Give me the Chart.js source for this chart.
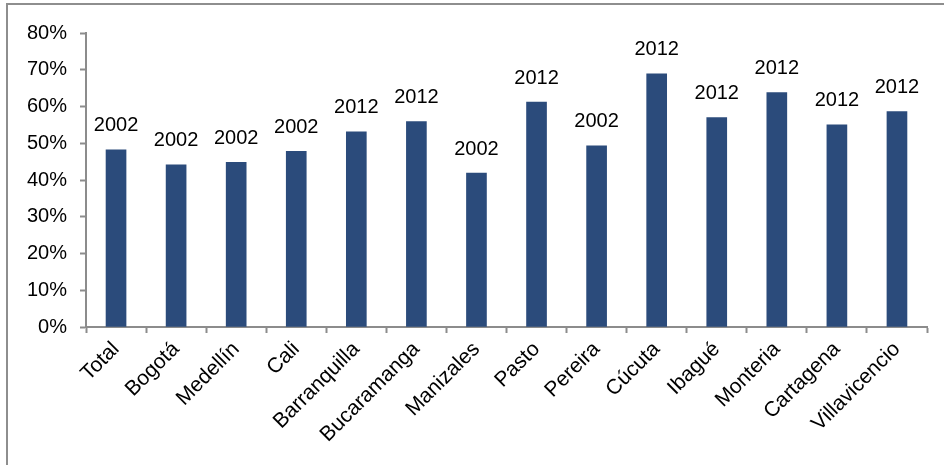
<!DOCTYPE html>
<html lang="es">
<head>
  <meta charset="UTF-8">
  <title>Ciudades 2002-2012</title>
  <script src="https://cdn.jsdelivr.net/npm/chart.js"></script>
  <style>
    body {
      margin: 0;
      padding: 0;
      background-color: #fff;
      overflow: hidden;
    }
    #frame {
      position: absolute;
      left: 6px;
      top: 3px;
      width: 1000px;
      height: 1000px;
      border-top: 2px solid #8e8e8e;
      border-left: 2px solid #8e8e8e;
    }
    #chart-container {
      position: absolute;
      left: 0;
      top: 0;
      width: 944px;
      height: 465px;
    }
  </style>
</head>
<body>
  <div id="frame"></div>
  <div id="chart-container">
    <canvas id="barChart" width="944" height="465"></canvas>
  </div>

  <script>
    const ciudades = ['Total', 'Bogotá', 'Medellín', 'Cali', 'Barranquilla', 'Bucaramanga', 'Manizales',
                      'Pasto', 'Pereira', 'Cúcuta', 'Ibagué', 'Monteria', 'Cartagena', 'Villavicencio'];
    const valores = [48.2, 44.1, 44.8, 47.8, 53.1, 55.9, 41.9, 61.2, 49.3, 68.9, 57.0, 63.8, 55.0, 58.6];
    const anios = ['2002', '2002', '2002', '2002', '2012', '2012', '2002',
                   '2012', '2002', '2012', '2012', '2012', '2012', '2012'];
    const yTicks = [0, 10, 20, 30, 40, 50, 60, 70, 80];

    const FONT = '"Liberation Sans", Arial, sans-serif';
    const gris = '#8c8c8c';

    // etiqueta del año encima de cada barra
    const yearLabels = {
      id: 'yearLabels',
      afterDatasetsDraw(chart) {
        const ctx = chart.ctx;
        const meta = chart.getDatasetMeta(0);
        ctx.save();
        ctx.font = '20px ' + FONT;
        ctx.fillStyle = '#000';
        ctx.textAlign = 'center';
        ctx.textBaseline = 'bottom';
        meta.data.forEach((bar, i) => {
          ctx.fillText(anios[i], bar.x, bar.y - 14);
        });
        ctx.restore();
      }
    };

    const ctx = document.getElementById('barChart').getContext('2d');
    const barChart = new Chart(ctx, {
      type: 'bar',
      data: {
        labels: ciudades,
        datasets: [{
          data: valores,
          backgroundColor: '#2b4b7b',
          barThickness: 20
        }]
      },
      options: {
        responsive: false,
        animation: false,
        layout: {
          padding: { left: 0, right: 17, top: 33, bottom: 0 }
        },
        plugins: {
          legend: { display: false },
          tooltip: { enabled: false }
        },
        scales: {
          x: {
            afterFit: s => { s.height = 138; },
            grid: {
              drawOnChartArea: false,
              tickLength: 6,
              tickWidth: 2,
              color: gris
            },
            border: { color: gris, width: 2 },
            ticks: {
              minRotation: 45,
              maxRotation: 45,
              padding: 4,
              color: '#000',
              font: { family: FONT, size: 21 }
            }
          },
          y: {
            min: 0,
            max: 80,
            afterFit: s => { s.width = 86; },
            afterBuildTicks: s => { s.ticks = yTicks.map(v => ({ value: v })); },
            grid: {
              drawOnChartArea: false,
              tickLength: 6,
              tickWidth: 2,
              color: gris
            },
            border: { color: gris, width: 2 },
            ticks: {
              padding: 13,
              color: '#000',
              font: { family: FONT, size: 20 },
              callback: v => v + '%'
            }
          }
        }
      },
      plugins: [yearLabels]
    });
  </script>
</body>
</html>
